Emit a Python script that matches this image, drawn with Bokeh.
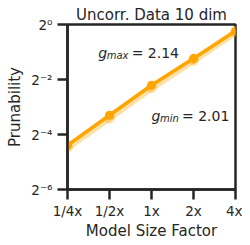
import numpy as np
from bokeh.plotting import figure
from bokeh.models import Range1d, FixedTicker, Label, ColumnDataSource
from bokeh.embed import file_html
from bokeh.resources import INLINE

# ---- data ----
size_factor = [0.25, 0.5, 1, 2, 4]
size_labels = ["1/4x", "1/2x", "1x", "2x", "4x"]
log2_prun_main = [-4.39, -3.30, -2.21, -1.24, -0.24]
log2_prun_light = [-4.47, -3.40, -2.30, -1.30, -0.28]
log2_err_lo = [-4.45, -3.34, -2.25, -1.42, -0.27]
log2_err_hi = [-4.33, -3.26, -2.17, -1.06, -0.21]
y_tick_exp = [0, -2, -4, -6]
y_tick_labels = ["2⁰", "2⁻²", "2⁻⁴", "2⁻⁶"]
g_max = "2.14"
g_min = "2.01"

prun_main = [2.0 ** v for v in log2_prun_main]
prun_light = [2.0 ** v for v in log2_prun_light]
err_lo = [2.0 ** v for v in log2_err_lo]
err_hi = [2.0 ** v for v in log2_err_hi]

TXT = "#262626"
FONT = "DejaVu Sans"
ORANGE = "#FFA500"

p = figure(width=242, height=242, output_backend="svg", toolbar_location=None,
           x_axis_type="log", y_axis_type="log",
           x_range=Range1d(0.25, 4), y_range=Range1d(2.0 ** -6, 1.0),
           min_border_left=67, min_border_right=7, min_border_top=24,
           min_border_bottom=48)

p.title.text = "Uncorr. Data 10 dim"
p.title.align = "center"
p.title.text_font = FONT
p.title.text_font_size = "15px"
p.title.text_font_style = "normal"
p.title.text_color = TXT
p.title.standoff = 2

p.xgrid.visible = False
p.ygrid.visible = False
p.outline_line_color = TXT
p.outline_line_width = 2.5
p.outline_line_alpha = 1
p.background_fill_color = "white"
p.border_fill_color = "white"

for ax in (p.xaxis[0], p.yaxis[0]):
    ax.axis_line_color = TXT
    ax.axis_line_width = 2.5
    ax.major_tick_line_color = TXT
    ax.major_tick_line_width = 2.5
    ax.major_tick_out = 10
    ax.major_tick_in = 0
    ax.minor_tick_line_color = None
    ax.major_label_text_font = FONT
    ax.major_label_text_font_size = "13.5px"
    ax.major_label_text_color = TXT
    ax.axis_label_text_font = FONT
    ax.axis_label_text_font_size = "15px"
    ax.axis_label_text_font_style = "normal"
    ax.axis_label_text_color = TXT

p.xaxis.ticker = FixedTicker(ticks=size_factor)
p.xaxis.major_label_overrides = {v: l for v, l in zip(size_factor, size_labels)}
p.xaxis.axis_label = "Model Size Factor"
p.xaxis.major_label_standoff = 3
p.xaxis.axis_label_standoff = 0

yt = [2.0 ** e for e in y_tick_exp]
p.yaxis.ticker = FixedTicker(ticks=yt)
p.yaxis.major_label_overrides = {v: l for v, l in zip(yt, y_tick_labels)}
p.yaxis.axis_label = "Prunability"
p.yaxis.major_label_standoff = 5
p.yaxis.axis_label_standoff = 4

src = ColumnDataSource(dict(x=size_factor, m=prun_main, l=prun_light, lo=err_lo, hi=err_hi))

p.line("x", "l", source=src, color=ORANGE, line_width=7, alpha=0.35)
p.scatter("x", "l", source=src, size=11, color=ORANGE, alpha=0.3, line_color=None)
p.segment(x0="x", y0="lo", x1="x", y1="hi", source=src, color=ORANGE, line_width=2.5)
p.line("x", "m", source=src, color=ORANGE, line_width=3.5)
p.scatter("x", "m", source=src, size=9, color=ORANGE, line_color=None)

def glabel(x_l2, y_l2, sub, val):
    x = 2.0 ** x_l2
    y = 2.0 ** y_l2
    common = dict(x=x, y=y, text_font=FONT, text_color=TXT, text_baseline="alphabetic")
    p.add_layout(Label(text="g", text_font_size="14px", text_font_style="italic", **common))
    p.add_layout(Label(text=sub, text_font_size="10px", text_font_style="italic",
                       x_offset=8.5, y_offset=-3, **common))
    p.add_layout(Label(text="= " + val, text_font_size="14px", text_font_style="normal",
                       x_offset=8.5 + (21 if sub == "max" else 18) + 4, **common))

glabel(-1.27, -1.02, "max", g_max)
glabel(0.0, -3.32, "min", g_min)

open("out.html", "w").write(file_html(p, INLINE))
